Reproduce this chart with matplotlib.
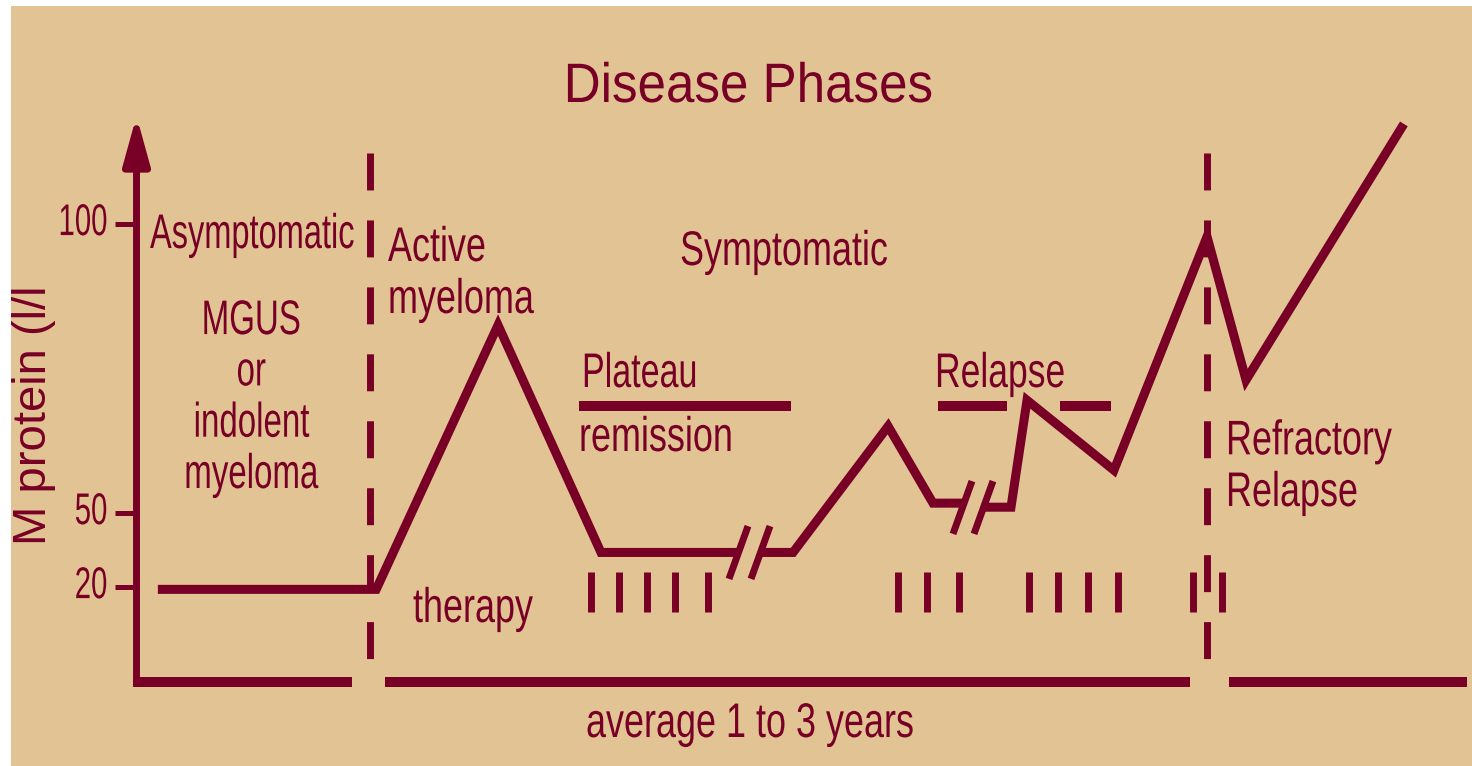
import matplotlib
matplotlib.use('Agg')
import matplotlib.pyplot as plt
from matplotlib import patheffects
from matplotlib.path import Path
from matplotlib.patches import Rectangle
from matplotlib.transforms import Affine2D
import numpy as np

MAROON = '#780026'
TAN = '#E2C393'
W, H = 1472, 766

plt.rcParams['font.family'] = ['Liberation Sans', 'DejaVu Sans']
plt.rcParams['lines.scale_dashes'] = False

# M protein course, time in arbitrary units along the x axis (0..100)
t_mgus = [1.6, 17.95, 27.07, 34.78, 45.04]
m_mgus = [19.5, 19.5, 82.5, 34, 34]
t_plateau = [46.69, 49.16, 56.28, 59.64, 61.81]
m_plateau = [34, 34, 65, 51.7, 51.7]
t_relapse = [63.38, 65.48, 66.68, 73.19, 80.16, 83.08, 94.9]
m_relapse = [51, 51, 69.5, 57.4, 97.8, 73, 117.3]

# time axis breaks
t_breaks = [45.04, 46.69, 61.81, 63.38]
m_breaks = [34, 34, 51, 51]

# therapy courses
t_therapy = [34.0, 36.1, 38.2, 40.3, 42.8, 57.0, 59.2, 61.6,
             66.8, 69.0, 71.25, 73.5, 79.1, 81.3]
m_therapy = 19

# phase boundaries
t_phase = [17.48, 80.16]
m_phase = [112.3, 4.8]

# plateau / relapse bars
bar_start = [33.13, 60.0, 69.14]
bar_end = [49.0, 65.2, 72.97]
bar_level = 68.5

# x axis pieces (gaps at phase boundaries)
xaxis_start = [-0.27, 18.6, 81.8]
xaxis_end = [16.14, 78.9, 99.6]

y_ticks = [20, 50, 100]
arrow_top = 118.7

# schematic (non linear) M protein axis
scale_v = [-100, 0, 20, 50, 100, 400]
scale_h = [-475, 0, 95, 169, 458, 2192]


def fwd(v):
    return np.interp(v, scale_v, scale_h)


def inv(h):
    return np.interp(h, scale_h, scale_v)


class Squeeze(patheffects.AbstractPathEffect):
    # narrow the glyphs horizontally, like the condensed face of the original
    def __init__(self, sx, anchor='left', offset=(0, 0)):
        super().__init__(offset)
        self.sx = sx
        self.anchor = anchor

    def draw_path(self, renderer, gc, tpath, affine, rgbFace=None):
        ext = tpath.get_extents()
        cx = {'left': 0, 'center': (ext.x0 + ext.x1) / 2, 'right': ext.x1}[self.anchor]
        sq = Affine2D().translate(-cx, 0).scale(self.sx, 1).translate(cx, 0)
        renderer.draw_path(gc, tpath, sq + affine + self._offset_transform(renderer), rgbFace)


fig = plt.figure(figsize=(W / 100, H / 100), dpi=100, facecolor='white')
fig.add_artist(Rectangle((11 / W, 0), 1 - 11 / W, 1 - 6 / H, transform=fig.transFigure,
                         facecolor=TAN, edgecolor='none', zorder=-1))

ax = fig.add_axes([136.5 / W, 84 / H, 1 - 136.5 / W, 676 / H])
ax.set_facecolor('none')
ax.set_yscale('function', functions=(fwd, inv))
ax.set_xlim(0, 100)
ax.set_ylim(0, 137.7)
for sp in ax.spines.values():
    sp.set_visible(False)
ax.set_xticks([])
ax.set_yticks(y_ticks)
ax.tick_params(axis='y', direction='out', length=15.5, width=3.6, color=MAROON,
               pad=5, labelsize=32, labelcolor=MAROON)
for lbl in ax.get_yticklabels():
    lbl.set_path_effects([Squeeze(0.66, 'right', offset=(0, 3.5))])

# axes
ax.annotate('', xy=(0, arrow_top), xytext=(0, 0), annotation_clip=False,
            arrowprops=dict(arrowstyle='-|>,head_length=2.9,head_width=0.8',
                            mutation_scale=10, lw=5, color=MAROON,
                            shrinkA=0, shrinkB=0))
for a, b in zip(xaxis_start, xaxis_end):
    ax.plot([a, b], [0, 0], color=MAROON, lw=7.2, solid_capstyle='butt', clip_on=False)

# phase boundaries
for t in t_phase:
    ax.plot([t, t], m_phase, color=MAROON, lw=5, ls=(0, (26.6, 21.6)),
            dash_capstyle='butt')

# M protein course
for t, m in [(t_mgus, m_mgus), (t_plateau, m_plateau), (t_relapse, m_relapse)]:
    ax.plot(t, m, color=MAROON, lw=6.5, solid_joinstyle='miter', solid_capstyle='butt')

slash = Path([(-0.18, -0.5), (0.18, 0.5)], [Path.MOVETO, Path.LINETO])
ax.plot(t_breaks, m_breaks, ls='none', marker=slash, ms=38, mew=5,
        mec=MAROON, mfc='none')

ax.plot(t_therapy, [m_therapy] * len(t_therapy), ls='none', marker='|',
        ms=28.8, mew=5, mec=MAROON)

for a, b in zip(bar_start, bar_end):
    ax.plot([a, b], [bar_level, bar_level], color=MAROON, lw=7.2, solid_capstyle='butt')


def label(x, y, s, sx, ha='left', size=35, ls=1.2):
    # y is the baseline of the last line
    fig.text(x / W, 1 - y / H, s, color=MAROON, fontsize=size, ha=ha, va='baseline',
             linespacing=ls, path_effects=[Squeeze(sx, ha)])


label(748, 102, 'Disease Phases', 0.92, 'center', size=40)
label(150, 248, 'Asymptomatic', 0.67)
label(251, 488, 'MGUS\nor\nindolent\nmyeloma', 0.68, 'center', ls=1.18)
label(388, 313, 'Active\nmyeloma', 0.74, ls=1.2)
label(784, 265, 'Symptomatic', 0.74, 'center')
label(582, 387, 'Plateau', 0.70)
label(579, 451, 'remission', 0.74)
label(413, 622, 'therapy', 0.74)
label(586, 737, 'average 1 to 3 years', 0.74)
label(935, 387, 'Relapse', 0.73)
label(1226, 506, 'Refractory\nRelapse', 0.74, ls=1.19)

fig.text(34 / W, 1 - 415 / H, 'M protein (l/l', color=MAROON, fontsize=34,
         rotation=90, ha='center', va='center')

fig.savefig('out.png', dpi=100)
